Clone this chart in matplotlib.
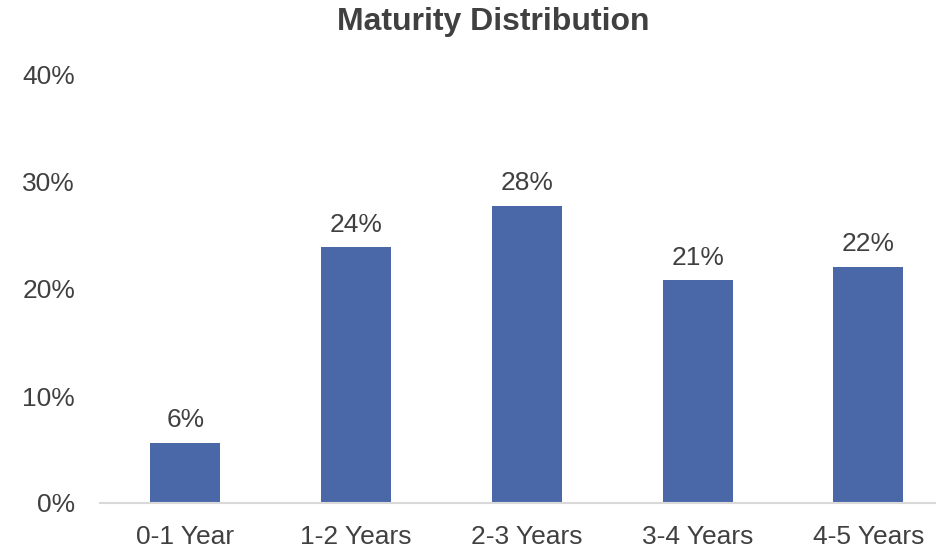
import matplotlib
matplotlib.use("Agg")
from matplotlib import pyplot as plt
import numpy as np

categories = ["0-1 Year", "1-2 Years", "2-3 Years", "3-4 Years", "4-5 Years"]
values = [5.6, 23.9, 27.8, 20.8, 22.1]
y_ticks = [0, 10, 20, 30, 40]

plt.rcParams['font.family'] = ['Liberation Sans', 'DejaVu Sans']
text_color = '#404040'

fig = plt.figure(figsize=(9.36, 5.5), dpi=100)
ax = fig.add_axes([100 / 936, 47 / 550, 5 * 170.75 / 936, 428 / 550])

x = np.arange(len(categories))
bars = ax.bar(x, values, width=0.41, color='#4a68a8')
for xi, v in zip(x, values):
    ax.text(xi, v + 1.0, "%.0f%%" % v, ha='center', va='bottom',
            fontsize=19, color=text_color)

ax.set_xlim(-0.5, len(categories) - 0.5)
ax.set_ylim(0, 40)
ax.set_yticks(y_ticks)
ax.set_yticklabels(["%d%%" % t for t in y_ticks])
ax.set_xticks(x)
ax.set_xticklabels(categories)
ax.tick_params(axis='both', length=0, labelsize=19, colors=text_color)
ax.tick_params(axis='y', pad=18)
ax.tick_params(axis='x', pad=16)
for s in ['top', 'right', 'left']:
    ax.spines[s].set_visible(False)
ax.spines['bottom'].set_color('#d9d9d9')
ax.spines['bottom'].set_linewidth(1.5)

fig.text(493 / 936, 1 - 22 / 550, "Maturity Distribution", ha='center', va='center',
         fontsize=23, fontweight='bold', color=text_color)

fig.savefig('out.png', dpi=100)
